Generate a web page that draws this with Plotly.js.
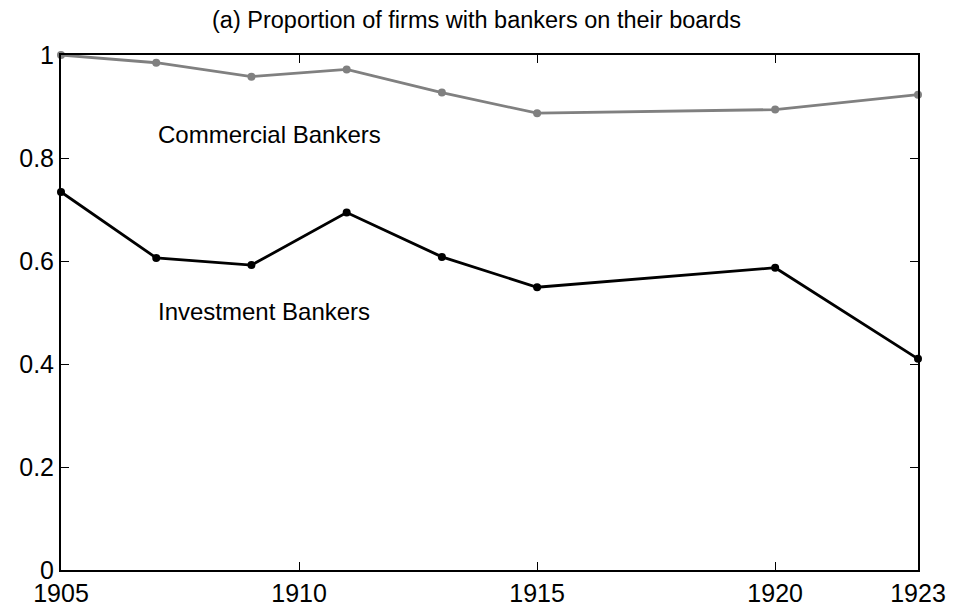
<!DOCTYPE html>
<html><head><meta charset="utf-8">
<script src="https://cdn.plot.ly/plotly-3.0.1.min.js"></script>
<style>html,body{margin:0;padding:0;background:#fff}#chart{width:953px;height:614px}</style>
</head><body><div id="chart"></div>
<script>
const years = [1905, 1907, 1909, 1911, 1913, 1915, 1920, 1923];
const commercial = [1.0, 0.985, 0.958, 0.972, 0.927, 0.887, 0.894, 0.923];
const investment = [0.734, 0.606, 0.592, 0.694, 0.608, 0.549, 0.587, 0.41];
const xTicks = [1905, 1910, 1915, 1920, 1923];
const yTicks = [0, 0.2, 0.4, 0.6, 0.8, 1];
const yTickText = ['0', '0.2', '0.4', '0.6', '0.8', '1'];

const traces = [
  {x: years, y: commercial, mode: 'lines+markers', name: 'Commercial Bankers',
   line: {color: '#808080', width: 2.8}, marker: {color: '#808080', size: 8}, cliponaxis: false},
  {x: years, y: investment, mode: 'lines+markers', name: 'Investment Bankers',
   line: {color: '#000000', width: 2.8}, marker: {color: '#000000', size: 8}, cliponaxis: false}
];
const fam = 'Liberation Sans, Arial, sans-serif';
const axFont = {family: fam, size: 25, color: '#000'};
const layout = {
  width: 953, height: 614,
  margin: {l: 61, r: 35, t: 54.5, b: 43.5},
  paper_bgcolor: '#fff', plot_bgcolor: '#fff',
  showlegend: false,
  title: {text: '(a) Proportion of firms with bankers on their boards', x: 0.5, xref: 'container', y: 0.967, yanchor: 'middle',
          font: {family: fam, size: 23.5, color: '#000'}},
  xaxis: {range: [1905, 1923], tickvals: xTicks, ticktext: xTicks.map(String), ticks: 'inside', ticklen: 8, tickwidth: 1,
          tickcolor: '#000', showline: true, linecolor: '#000', linewidth: 2, mirror: 'ticks', showgrid: false, zeroline: false,
          tickfont: axFont, ticklabelstandoff: 0},
  yaxis: {range: [0, 1], tickvals: yTicks, ticktext: yTickText, ticks: 'inside', ticklen: 8, tickwidth: 1,
          tickcolor: '#000', showline: true, linecolor: '#000', linewidth: 2, mirror: 'ticks', showgrid: false, zeroline: false,
          tickfont: axFont},
  annotations: [
    {x: 1907, y: 0.846, xref: 'x', yref: 'y', text: 'Commercial Bankers', showarrow: false, xanchor: 'left', yanchor: 'middle',
     font: {family: fam, size: 24, color: '#000'}},
    {x: 1907, y: 0.501, xref: 'x', yref: 'y', text: 'Investment Bankers', showarrow: false, xanchor: 'left', yanchor: 'middle',
     font: {family: fam, size: 24, color: '#000'}}
  ]
};
Plotly.newPlot('chart', traces, layout, {displayModeBar: false, staticPlot: true});
</script></body></html>
